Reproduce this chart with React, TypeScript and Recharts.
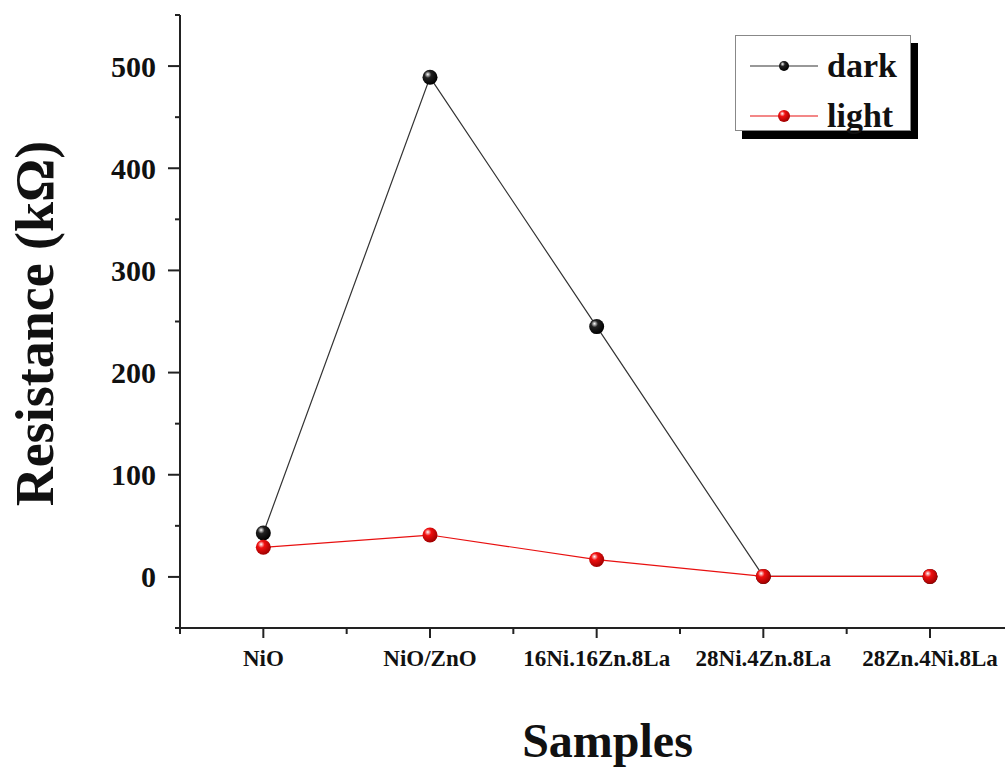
import { LineChart, Line, XAxis, YAxis } from "recharts";

const categories = [
  "NiO",
  "NiO/ZnO",
  "16Ni.16Zn.8La",
  "28Ni.4Zn.8La",
  "28Zn.4Ni.8La",
];
const darkValues = [43, 489, 245, 0.5, 0.5];
const lightValues = [29, 41, 17, 0.5, 0.5];
const yTicks = [-50, 0, 50, 100, 150, 200, 250, 300, 350, 400, 450, 500, 550];
const xTicks = [-0.5, 0, 0.5, 1, 1.5, 2, 2.5, 3, 3.5, 4];

const data = categories.map((name, i) => ({
  x: i,
  name,
  dark: darkValues[i],
  light: lightValues[i],
}));

const FONT = '"Liberation Serif", "Times New Roman", serif';

function XTick(props: any) {
  const { x, y, payload } = props;
  const v = payload.value as number;
  const major = Number.isInteger(v);
  return (
    <g>
      <line x1={x} y1={y} x2={x} y2={y + (major ? 10 : 6)} stroke="#222" strokeWidth={2} />
      {major && (
        <text
          x={x}
          y={y + 38}
          textAnchor="middle"
          fontFamily={FONT}
          fontWeight="bold"
          fontSize={23}
          fill="#111"
        >
          {categories[v]}
        </text>
      )}
    </g>
  );
}

function YTick(props: any) {
  const { x, y, payload } = props;
  const v = payload.value as number;
  const major = v % 100 === 0;
  return (
    <g>
      <line x1={x - (major ? 12 : 5)} y1={y} x2={x} y2={y} stroke="#222" strokeWidth={2} />
      {major && (
        <text
          x={x - 24}
          y={y}
          dy="0.35em"
          textAnchor="end"
          fontFamily={FONT}
          fontWeight="bold"
          fontSize={30}
          fill="#111"
        >
          {v}
        </text>
      )}
    </g>
  );
}

function Ball({ id, color, dark }: { id: string; color: string; dark: string }) {
  return (
    <radialGradient id={id} cx="38%" cy="35%" r="65%" fx="35%" fy="30%">
      <stop offset="0%" stopColor="#fff" />
      <stop offset="35%" stopColor={color} />
      <stop offset="100%" stopColor={dark} />
    </radialGradient>
  );
}

export default function App() {
  return (
    <div
      style={{
        position: "absolute",
        left: 0,
        top: 0,
        width: 1005,
        height: 768,
        background: "#fff",
      }}
    >
      <LineChart
        width={1005}
        height={768}
        data={data}
        margin={{ top: 15, right: 0, bottom: 0, left: 0 }}
      >
        <defs>
          <Ball id="ballBlack" color="#222" dark="#000" />
          <Ball id="ballRed" color="#f01010" dark="#a00000" />
        </defs>

        <XAxis
          dataKey="x"
          type="number"
          domain={[-0.5, 4.45]}
          ticks={xTicks}
          interval={0}
          allowDataOverflow
          height={140}
          tickSize={0}
          tickMargin={0}
          tickLine={false}
          axisLine={{ stroke: "#222", strokeWidth: 2 }}
          tick={<XTick />}
          label={{
            content: (p: any) => {
              const vb = p.viewBox;
              return (
                <text
                  x={vb.x + vb.width / 2 + 15}
                  y={vb.y + vb.height - 11}
                  textAnchor="middle"
                  fontFamily={FONT}
                  fontWeight="bold"
                  fontSize={48}
                  fill="#111"
                >
                  Samples
                </text>
              );
            },
          }}
        />

        <YAxis
          type="number"
          domain={[-50, 550]}
          ticks={yTicks}
          interval={0}
          width={180}
          tickSize={0}
          tickMargin={0}
          tickLine={false}
          axisLine={{ stroke: "#222", strokeWidth: 2 }}
          tick={<YTick />}
          label={{
            content: (p: any) => {
              const vb = p.viewBox;
              const cx = 53;
              const cy = vb.y + vb.height / 2 + 2;
              return (
                <text
                  x={cx}
                  y={cy}
                  textAnchor="middle"
                  transform={`rotate(-90, ${cx}, ${cy})`}
                  fontFamily={FONT}
                  fontWeight="bold"
                  fontSize={54}
                  fill="#111"
                >
                  Resistance (kΩ)
                </text>
              );
            },
          }}
        />

        {/* dark resistance — thin black line, black balls */}
        <Line
          dataKey="dark"
          stroke="#333"
          strokeWidth={1.2}
          dot={{ r: 7.5, fill: "url(#ballBlack)", stroke: "none" }}
          activeDot={false}
          isAnimationActive={false}
        />

        {/* light resistance — thin red line, red balls */}
        <Line
          dataKey="light"
          stroke="#e81010"
          strokeWidth={1.2}
          dot={{ r: 7.5, fill: "url(#ballRed)", stroke: "none" }}
          activeDot={false}
          isAnimationActive={false}
        />
      </LineChart>

      {/* Legend */}
      <div
        style={{
          position: "absolute",
          left: 735,
          top: 35,
          width: 174,
          height: 94,
          border: "1px solid #888",
          background: "#fff",
          boxShadow: "7px 8px 0 #000",
          fontFamily: FONT,
          fontWeight: "bold",
          fontSize: 34,
          color: "#111",
        }}
      >
        {[
          { label: "dark", stroke: "#333", fill: "url(#lgBlack)", r: 5 },
          { label: "light", stroke: "#e81010", fill: "url(#lgRed)", r: 6 },
        ].map((row, i) => (
          <div
            key={row.label}
            style={{
              position: "absolute",
              left: 14,
              top: 10 + i * 50,
              height: 40,
              display: "flex",
              alignItems: "center",
            }}
          >
            <svg width={68} height={20}>
              <defs>
                <Ball id="lgBlack" color="#222" dark="#000" />
                <Ball id="lgRed" color="#f01010" dark="#a00000" />
              </defs>
              <line x1={0} y1={10} x2={68} y2={10} stroke={row.stroke} strokeWidth={1.2} />
              <circle cx={34} cy={10} r={row.r} fill={row.fill} />
            </svg>
            <span style={{ marginLeft: 9, lineHeight: "40px" }}>{row.label}</span>
          </div>
        ))}
      </div>
    </div>
  );
}
